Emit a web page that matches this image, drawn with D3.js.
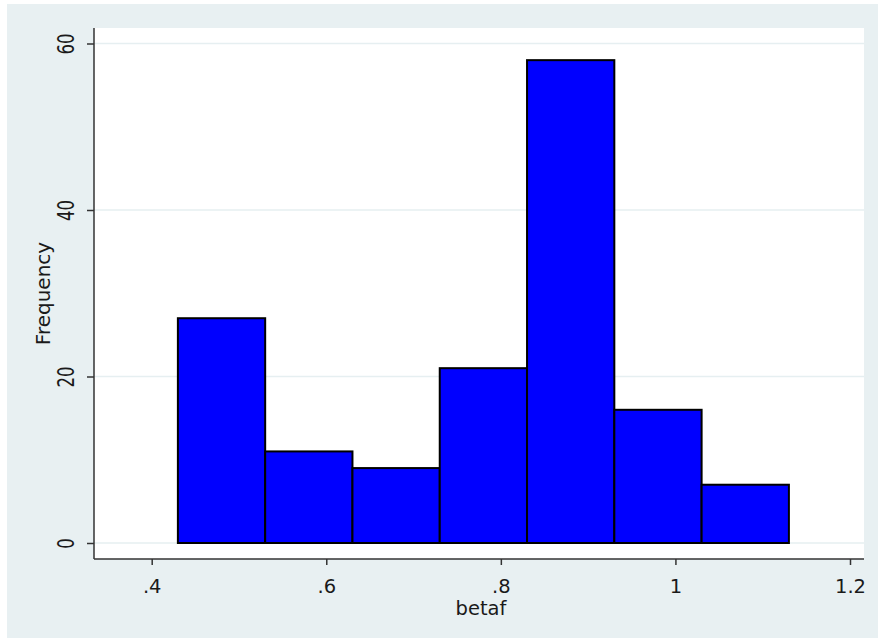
<!DOCTYPE html>
<html>
<head>
<meta charset="utf-8">
<script src="https://cdn.jsdelivr.net/npm/d3@7"></script>
<style>
  body { margin: 0; background: #fff; }
  text { font-family: "DejaVu Sans", "Liberation Sans", sans-serif; fill: #1a1a1a; }
</style>
</head>
<body>
<svg id="chart"></svg>
<script>
var width = 878,
    height = 638;

// histogram of betaf, bin width 0.1
var binStarts = [0.43, 0.53, 0.63, 0.73, 0.83, 0.93, 1.03];
var binWidth = 0.1;
var freqs = [27, 11, 9, 21, 58, 16, 7];
var xTicks = [0.4, 0.6, 0.8, 1, 1.2];
var xTickLabels = [".4", ".6", ".8", "1", "1.2"];
var yTicks = [0, 20, 40, 60];

var svg = d3.select("#chart")
    .attr("width", width)
    .attr("height", height);

// outer background
svg.append("rect")
    .attr("x", 7).attr("y", 4)
    .attr("width", width - 7).attr("height", height - 4)
    .attr("fill", "#e8f0f2");

// plot region (note: "top" is reserved on window, so use pTop)
var pLeft = 94, pRight = 864, pTop = 28, pBottom = 559;
svg.append("rect")
    .attr("x", pLeft).attr("y", pTop)
    .attr("width", pRight - pLeft).attr("height", pBottom - pTop)
    .attr("fill", "#fff");

var x = d3.scaleLinear().domain([0.4, 1.2]).range([151.7, 850]);
var y = d3.scaleLinear().domain([0, 60]).range([543, 43.5]);

// gridlines
svg.append("g").selectAll("line")
    .data(yTicks)
    .enter().append("line")
    .attr("x1", pLeft).attr("x2", pRight)
    .attr("y1", function(d) { return y(d); })
    .attr("y2", function(d) { return y(d); })
    .attr("stroke", "#e6eff1")
    .attr("stroke-width", 1.5);

// bars
svg.append("g").selectAll("rect")
    .data(freqs)
    .enter().append("rect")
    .attr("x", function(d, i) { return x(binStarts[i]); })
    .attr("width", function(d, i) { return x(binStarts[i] + binWidth) - x(binStarts[i]); })
    .attr("y", function(d) { return y(d); })
    .attr("height", function(d) { return y(0) - y(d); })
    .attr("fill", "#0000ff")
    .attr("stroke", "#000")
    .attr("stroke-width", 2);

// x axis
var xAxis = d3.axisBottom(x)
    .tickValues(xTicks)
    .tickSize(6)
    .tickFormat(function(d, i) { return xTickLabels[i]; });

var gx = svg.append("g")
    .attr("transform", "translate(0," + pBottom + ")")
    .call(xAxis);
gx.select(".domain").attr("d", "M" + pLeft + ",0H" + pRight).attr("stroke", "#333").attr("stroke-width", 1.5);
gx.selectAll(".tick line").attr("stroke", "#333").attr("stroke-width", 1.5);
gx.selectAll(".tick text")
    .style("font-size", "19.5px")
    .attr("fill", "#1a1a1a")
    .attr("y", 34)
    .attr("dy", null);

// y axis
var yAxis = d3.axisLeft(y)
    .tickValues(yTicks)
    .tickSize(7);

var gy = svg.append("g")
    .attr("transform", "translate(" + pLeft + ",0)")
    .call(yAxis);
gy.select(".domain").attr("d", "M0," + pTop + "V" + pBottom).attr("stroke", "#333").attr("stroke-width", 1.5);
gy.selectAll(".tick line").attr("stroke", "#333").attr("stroke-width", 1.5);
gy.selectAll(".tick text")
    .style("font-size", "19.5px")
    .attr("fill", "#1a1a1a")
    .attr("x", 0).attr("y", 0)
    .attr("dy", "0.36em")
    .attr("text-anchor", "middle")
    .attr("transform", "translate(-28,0) rotate(-90) scale(0.85,1.15)");

// axis titles
svg.append("text")
    .attr("x", 481).attr("y", 615)
    .attr("text-anchor", "middle")
    .style("font-size", "19.5px")
    .text("betaf");

svg.append("text")
    .attr("transform", "translate(50,293.5) rotate(-90)")
    .attr("text-anchor", "middle")
    .style("font-size", "20px")
    .text("Frequency");
</script>
</body>
</html>
